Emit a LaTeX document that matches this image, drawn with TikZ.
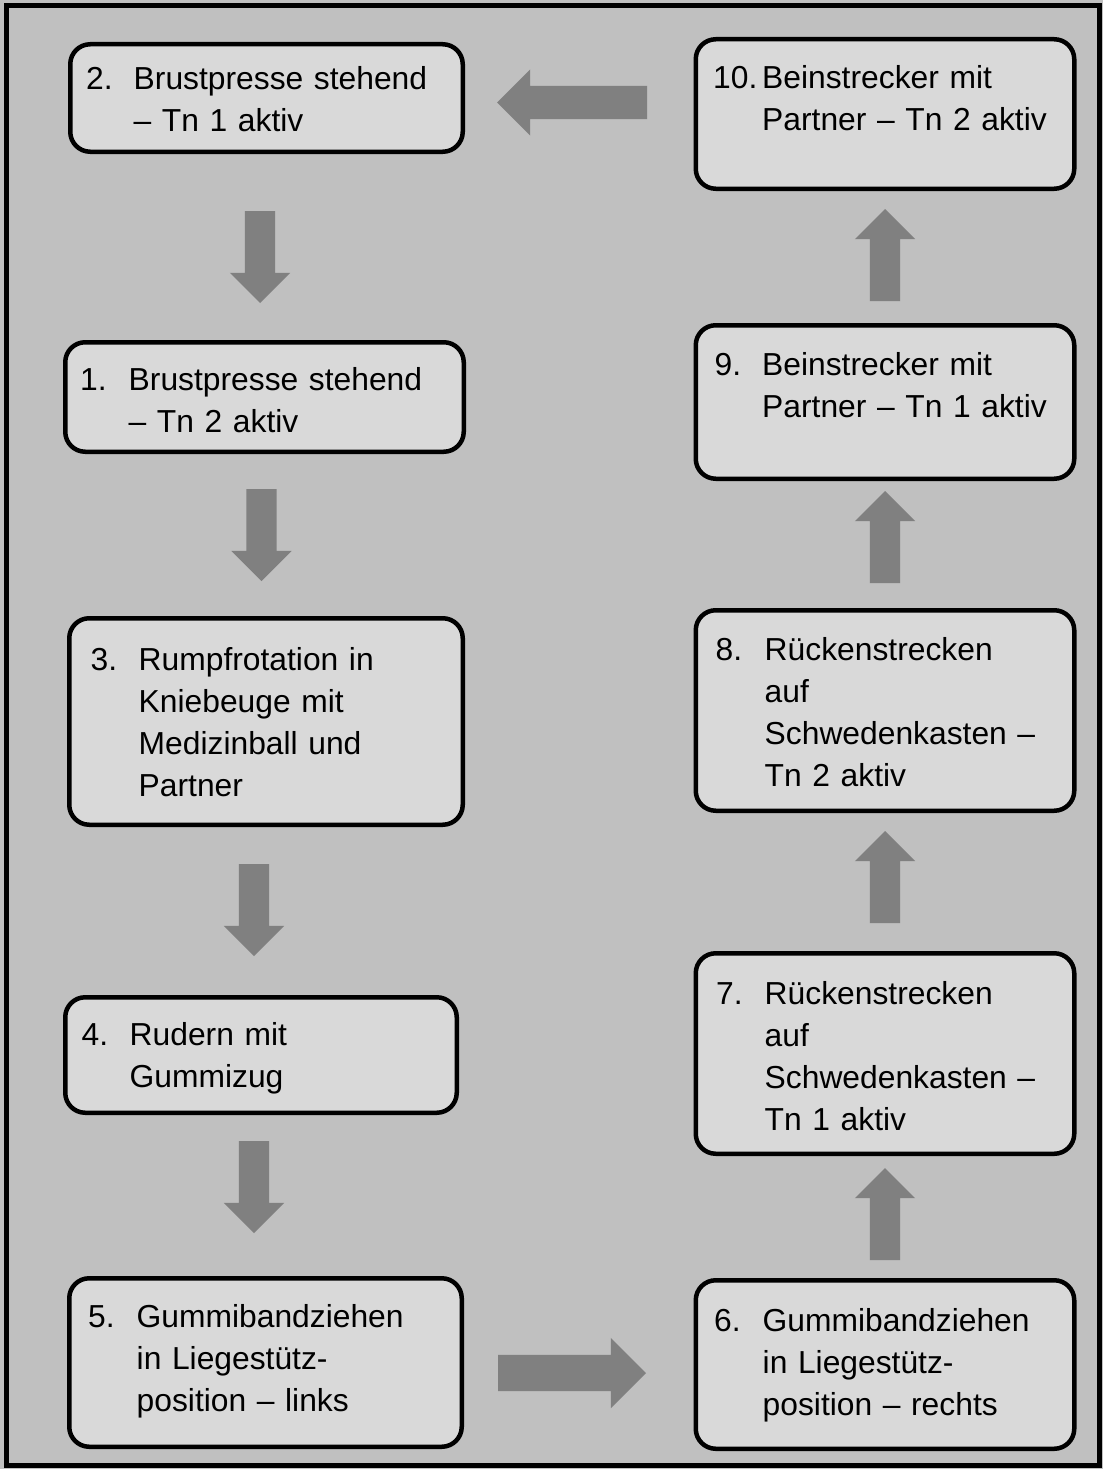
\documentclass[tikz,border=0pt]{standalone}
\usepackage{fontspec}
\setmainfont{Liberation Sans}
\usetikzlibrary{shapes.arrows}
\definecolor{bggray}{HTML}{C0C0C0}
\definecolor{boxgray}{HTML}{D9D9D9}
\definecolor{arrgray}{HTML}{808080}
\newcommand\boxfont{\fontsize{31.8}{42.3}\selectfont}
\begin{document}
\begin{tikzpicture}[x=1pt,y=-1pt,
  stepbox/.style={draw=black, line width=4.5pt, fill=boxgray, rounded corners=20pt, inner sep=0pt, outer sep=0pt},
  numtxt/.style={anchor=base west, inner sep=0pt, font=\boxfont},
  bodytxt/.style={anchor=base west, inner sep=0pt, font=\boxfont, text width=340pt, align=left},
  blockarrow/.style={single arrow, fill=arrgray, draw=none, inner xsep=0pt, outer sep=0pt, single arrow tip angle=90, anchor=tail},
  varrow/.style={blockarrow, minimum height=92pt, inner xsep=15pt, inner ysep=15pt, single arrow head extend=15pt},
  harrow/.style={blockarrow, minimum height=150pt, inner ysep=16.5pt, single arrow head extend=16.5pt},
  harrowb/.style={blockarrow, minimum height=148pt, inner ysep=18pt, single arrow head extend=17pt}]
\useasboundingbox (0,0) rectangle (1103,1469);
\fill[bggray] (0,0) rectangle (1103,1469);
\draw[line width=5pt] (6.5,5.5) rectangle (1099,1465.5);

% boxes
\node[stepbox, minimum width=392.5pt, minimum height=107.5pt] (b2) at (266.5,98) {};
\node[stepbox, minimum width=378.5pt, minimum height=149.5pt] (b10) at (885,114) {};
\node[stepbox, minimum width=398.5pt, minimum height=109.5pt] (b1) at (264.5,397) {};
\node[stepbox, minimum width=378.5pt, minimum height=153.5pt] (b9) at (885,402) {};
\node[stepbox, minimum width=393.5pt, minimum height=206.5pt] (b3) at (266,721.5) {};
\node[stepbox, minimum width=378.5pt, minimum height=200.5pt] (b8) at (885,710.5) {};
\node[stepbox, minimum width=391.5pt, minimum height=115.5pt] (b4) at (261,1055) {};
\node[stepbox, minimum width=378.5pt, minimum height=200.5pt] (b7) at (885,1053.5) {};
\node[stepbox, minimum width=392.5pt, minimum height=168.5pt] (b5) at (265.5,1362.5) {};
\node[stepbox, minimum width=378.5pt, minimum height=168.5pt] (b6) at (885,1364.5) {};

% texts
\node[numtxt] (n2) at (86,89.5) {2.};
\node[bodytxt] (t2) at (133.5,89.5) {Brustpresse stehend\\– Tn 1 aktiv};
\node[numtxt] (n10) at (713,88.5) {10.};
\node[bodytxt] (t10) at (762,88.5) {Beinstrecker mit\\Partner – Tn 2 aktiv};
\node[numtxt] (n1) at (80,390) {1.};
\node[bodytxt] (t1) at (128.5,390) {Brustpresse stehend\\– Tn 2 aktiv};
\node[numtxt] (n9) at (714.5,375) {9.};
\node[bodytxt] (t9) at (762,375) {Beinstrecker mit\\Partner – Tn 1 aktiv};
\node[numtxt] (n3) at (90.5,670) {3.};
\node[bodytxt] (t3) at (138.5,670) {Rumpfrotation in\\Kniebeuge mit\\Medizinball und\\Partner};
\node[numtxt] (n8) at (715.5,660) {8.};
\node[bodytxt] (t8) at (764.5,660) {Rückenstrecken\\auf\\Schwedenkasten –\\Tn 2 aktiv};
\node[numtxt] (n4) at (81.5,1045) {4.};
\node[bodytxt] (t4) at (129.5,1045) {Rudern mit\\Gummizug};
\node[numtxt] (n7) at (716,1004) {7.};
\node[bodytxt] (t7) at (764.5,1004) {Rückenstrecken\\auf\\Schwedenkasten –\\Tn 1 aktiv};
\node[numtxt] (n5) at (88,1327) {5.};
\node[bodytxt] (t5) at (136.5,1327) {Gummibandziehen\\in Liegestütz-\\position – links};
\node[numtxt] (n6) at (714,1331) {6.};
\node[bodytxt] (t6) at (762.5,1331) {Gummibandziehen\\in Liegestütz-\\position – rechts};

% block arrows
\node[harrow, shape border rotate=180] (a102) at (647,102.5) {};
\node[varrow, shape border rotate=270] (a21) at (260,211) {};
\node[varrow, shape border rotate=270] (a13) at (261.5,489) {};
\node[varrow, shape border rotate=270] (a34) at (254,864) {};
\node[varrow, shape border rotate=270] (a45) at (254,1141) {};
\node[harrowb] (a56) at (498,1373) {};
\node[varrow, shape border rotate=90] (a67) at (885,1260) {};
\node[varrow, shape border rotate=90] (a78) at (885,923) {};
\node[varrow, shape border rotate=90] (a89) at (885,583) {};
\node[varrow, shape border rotate=90] (a910) at (885,301) {};
\end{tikzpicture}
\end{document}
